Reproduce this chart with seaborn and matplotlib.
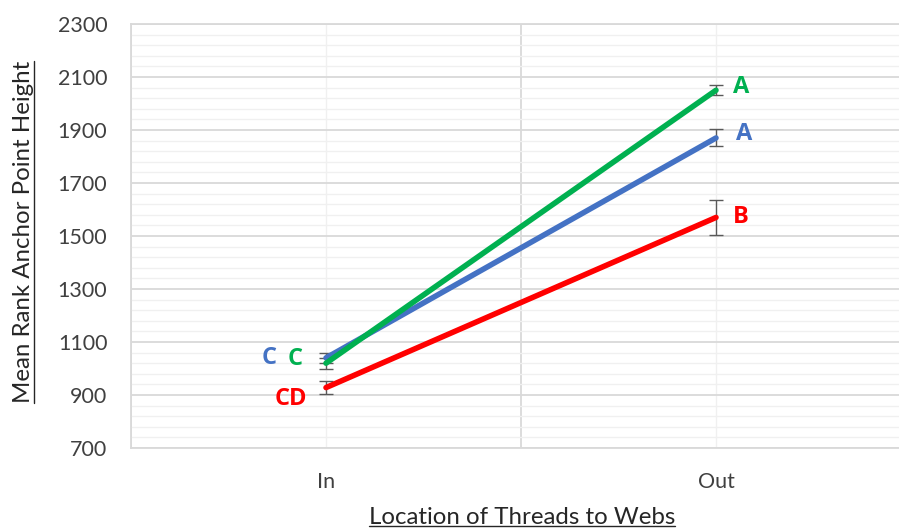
import matplotlib
matplotlib.use("Agg")
import matplotlib.pyplot as plt
from matplotlib.lines import Line2D
from matplotlib.ticker import FixedLocator
import pandas as pd
import seaborn as sns

# data
locations = ["In", "Out"]
series = ["red", "blue", "green"]
green_means = [1020, 2050]
green_err = [20, 18]
blue_means = [1040, 1870]
blue_err = [18, 32]
red_means = [928, 1570]
red_err = [25, 66]
green_letters = ["C", "A"]
blue_letters = ["C", "A"]
red_letters = ["CD", "B"]
y_ticks = [700, 900, 1100, 1300, 1500, 1700, 1900, 2100, 2300]

colors = {"green": "#00B050", "blue": "#4472C4", "red": "#FF0000"}

rows = []
for name, means, errs, letters in [
    ("red", red_means, red_err, red_letters),
    ("blue", blue_means, blue_err, blue_letters),
    ("green", green_means, green_err, green_letters),
]:
    for loc, m, e, l in zip(locations, means, errs, letters):
        rows.append({"location": loc, "series": name, "mean": m, "err": e, "letter": l})
df = pd.DataFrame(rows)

sns.set_theme(style="white")
plt.rcParams["font.family"] = ["Lato", "DejaVu Sans"]

fig = plt.figure(figsize=(8.99, 5.31), dpi=100)
ax = fig.add_axes([131 / 899, (531 - 448) / 531, 780 / 899, 424 / 531])

# error bars behind the lines
for name in series:
    sub = df[df["series"] == name]
    ax.errorbar(sub["location"], sub["mean"], yerr=sub["err"], fmt="none",
                ecolor="#595959", elinewidth=1, capsize=5, capthick=1, zorder=2)

sns.lineplot(data=df, x="location", y="mean", hue="series", hue_order=series,
             palette=colors, linewidth=4, legend=False, sort=False, ax=ax,
             zorder=3)
for line in ax.get_lines():
    line.set_solid_capstyle("round")

# significance letters (offsets in points)
offsets = {
    ("green", "Out"): (18, 2), ("blue", "Out"): (20, 3), ("red", "Out"): (18, 0),
    ("blue", "In"): (-41, 0), ("green", "In"): (-22, 3), ("red", "In"): (-25, -8),
}
for _, r in df.iterrows():
    dx, dy = offsets[(r["series"], r["location"])]
    ax.annotate(r["letter"], (r["location"], r["mean"]), xytext=(dx, dy),
                textcoords="offset points", ha="center", va="center",
                fontsize=17, fontweight="bold", family=["Open Sans", "DejaVu Sans"],
                color=colors[r["series"]])

ax.set_ylim(y_ticks[0], y_ticks[-1])
ax.set_xlim(-0.5, 1.5)
ax.yaxis.set_major_locator(FixedLocator(y_ticks))
ax.yaxis.set_minor_locator(FixedLocator(range(y_ticks[0], y_ticks[-1] + 1, 40)))
ax.xaxis.set_major_locator(FixedLocator([0, 1]))
ax.xaxis.set_minor_locator(FixedLocator([-0.5, 0.5, 1.5]))
ax.set_xticklabels(locations)

ax.grid(which="major", axis="y", color="#D9D9D9", linewidth=1.3)
ax.grid(which="minor", axis="y", color="#F0F0F0", linewidth=1.0)
ax.grid(which="minor", axis="x", color="#D9D9D9", linewidth=1.3)
ax.grid(which="major", axis="x", color="#F0F0F0", linewidth=1.0)
ax.set_axisbelow(True)
for s in ax.spines.values():
    s.set_color("#D9D9D9")
    s.set_linewidth(1.3)

ax.tick_params(which="both", length=0)
ax.tick_params(axis="y", pad=17, labelsize=15.5, labelcolor="#404040")
ax.tick_params(axis="x", pad=17, labelsize=15.5, labelcolor="#404040")

ax.set_ylabel("Mean Rank Anchor Point Height", fontsize=17.3, color="#262626")
ax.set_xlabel("Location of Threads to Webs", fontsize=17.3, color="#262626")
ax.yaxis.set_label_coords(-0.125, 0.509)
ax.xaxis.set_label_coords(0.501, -0.14)

# underline both axis titles
fig.canvas.draw()
inv = fig.transFigure.inverted()
yb = inv.transform(ax.yaxis.label.get_window_extent().get_points())
fig.add_artist(Line2D([yb[1, 0] + 0.001] * 2, [yb[0, 1], yb[1, 1]],
                      color="#262626", linewidth=1, transform=fig.transFigure))
xb = inv.transform(ax.xaxis.label.get_window_extent().get_points())
fig.add_artist(Line2D([xb[0, 0], xb[1, 0]], [xb[0, 1] + 0.004] * 2,
                      color="#262626", linewidth=1, transform=fig.transFigure))

fig.savefig("out.png", dpi=100)
